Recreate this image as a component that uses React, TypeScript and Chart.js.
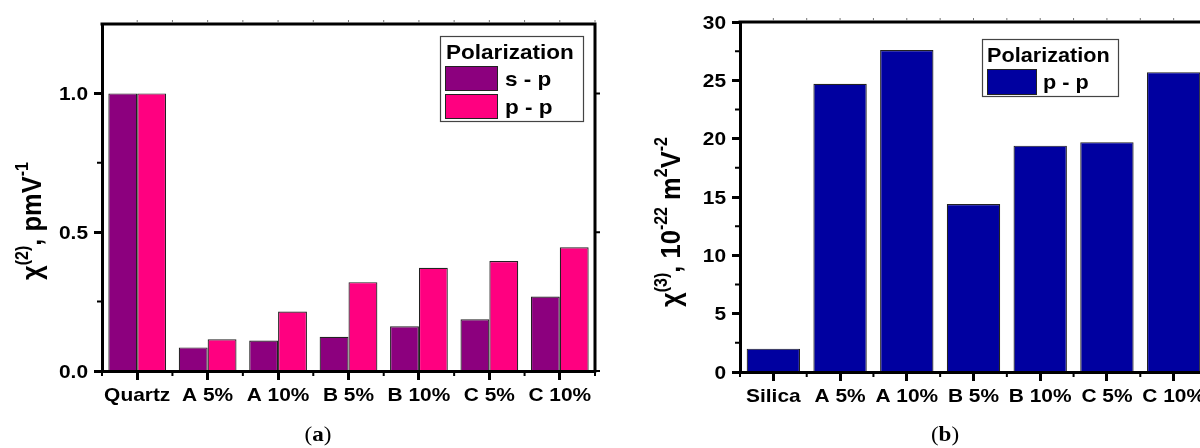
import React, { useEffect, useRef } from 'react';
import { Chart, registerables } from 'chart.js';

Chart.register(...registerables);

const SANS = '"Liberation Sans", Arial, Helvetica, sans-serif';
const SERIF = '"Liberation Serif", "DejaVu Serif", serif';
// Glyphs in this figure are drawn slightly wide.
const SX = 1.1;

// Panel (a): second-order susceptibility
const samplesA = ['Quartz', 'A 5%', 'A 10%', 'B 5%', 'B 10%', 'C 5%', 'C 10%'];
const chi2SP = [1.0, 0.085, 0.11, 0.123, 0.161, 0.186, 0.268];
const chi2PP = [1.0, 0.114, 0.214, 0.32, 0.372, 0.396, 0.446];
const chi2Ticks = [0, 0.5, 1.0];
const chi2Minor = [0.25, 0.75];

// Panel (b): third-order susceptibility
const samplesB = ['Silica', 'A 5%', 'A 10%', 'B 5%', 'B 10%', 'C 5%', 'C 10%'];
const chi3PP = [2.0, 24.7, 27.6, 14.4, 19.4, 19.7, 25.7];
const chi3Ticks = [0, 5, 10, 15, 20, 25, 30];
const chi3Minor = [2.5, 7.5, 12.5, 17.5, 22.5, 27.5];

const COLOR_SP = '#8C007E';
const COLOR_PP = '#FF0080';
const COLOR_NAVY = '#0000A0';

type Seg = { t: string; sup?: boolean };

interface LegendSpec {
  x: number;
  y: number;
  w: number;
  h: number;
  titleSize: number;
  titleX: number;
  titleBase: number;
  swX: number;
  swW: number;
  rows: { top: number; h: number; base: number }[];
  textX: number;
  textSize: number;
}

interface PanelSpec {
  yTitle: Seg[];
  yTitleX: number;
  yTitleY: number;
  yTitleSize: number;
  letter: string;
  captionX: number;
  decimals: number;
  yMinor: number[];
  labelSize: number;
  legend: LegendSpec;
}

function wideText(
  ctx: CanvasRenderingContext2D,
  text: string,
  x: number,
  y: number,
  font: string,
  align: CanvasTextAlign
) {
  ctx.save();
  ctx.translate(x, y);
  ctx.scale(SX, 1);
  ctx.font = font;
  ctx.textAlign = align;
  ctx.textBaseline = 'alphabetic';
  ctx.fillStyle = '#000';
  ctx.fillText(text, 0, 0);
  ctx.restore();
}

function rotatedTitle(ctx: CanvasRenderingContext2D, segs: Seg[], cx: number, cy: number, size: number) {
  const main = `bold ${size}px ${SANS}`;
  const sup = `bold ${Math.round(size * 0.62)}px ${SANS}`;
  ctx.save();
  ctx.translate(cx, cy);
  ctx.rotate(-Math.PI / 2);
  ctx.scale(1, SX);
  ctx.fillStyle = '#000';
  ctx.textBaseline = 'alphabetic';
  ctx.textAlign = 'left';
  let total = 0;
  for (const s of segs) {
    ctx.font = s.sup ? sup : main;
    total += ctx.measureText(s.t).width;
  }
  let x = -total / 2;
  const base = (size * 0.716) / 2;
  for (const s of segs) {
    ctx.font = s.sup ? sup : main;
    ctx.fillText(s.t, x, s.sup ? base - size * 0.47 : base);
    x += ctx.measureText(s.t).width;
  }
  ctx.restore();
}

function panelDecor(p: PanelSpec) {
  return {
    id: 'panelDecor',
    afterDraw(chart: any) {
      const ctx: CanvasRenderingContext2D = chart.ctx;
      const a = chart.chartArea;
      const xs = chart.scales.x;
      const ys = chart.scales.y;
      const n = chart.data.labels.length;
      ctx.save();

      // frame: top and right sides
      ctx.strokeStyle = '#000';
      ctx.lineWidth = 3;
      ctx.beginPath();
      ctx.moveTo(a.left - 1.5, a.top);
      ctx.lineTo(a.right, a.top);
      ctx.lineTo(a.right, a.bottom + 1.5);
      ctx.stroke();

      // minor y ticks on the left axis
      ctx.lineWidth = 2;
      ctx.beginPath();
      for (const v of p.yMinor) {
        const y = ys.getPixelForValue(v);
        ctx.moveTo(a.left, y);
        ctx.lineTo(a.left - 5, y);
      }
      // major y ticks mirrored on the right side
      for (const t of ys.ticks) {
        const y = ys.getPixelForValue(t.value);
        ctx.moveTo(a.right, y);
        ctx.lineTo(a.right + 6, y);
      }
      // minor x ticks between categories
      for (let i = 0; i <= n; i++) {
        const x =
          i === 0
            ? a.left
            : i === n
            ? a.right
            : (xs.getPixelForTick(i - 1) + xs.getPixelForTick(i)) / 2;
        ctx.moveTo(x, a.bottom);
        ctx.lineTo(x, a.bottom + 5);
      }
      ctx.stroke();

      // faint ticks above the top side
      ctx.strokeStyle = '#777';
      ctx.lineWidth = 1;
      ctx.beginPath();
      for (let i = 0; i < n; i++) {
        const c = xs.getPixelForTick(i);
        const half = (a.right - a.left) / n / 2;
        ctx.moveTo(c, a.top - 1);
        ctx.lineTo(c, a.top - 4);
        ctx.moveTo(c + half, a.top - 1);
        ctx.lineTo(c + half, a.top - 4);
      }
      ctx.stroke();

      // tick labels
      const lf = `bold ${p.labelSize}px ${SANS}`;
      const cap = p.labelSize * 0.716;
      for (const t of ys.ticks) {
        const y = ys.getPixelForValue(t.value);
        wideText(ctx, Number(t.value).toFixed(p.decimals), a.left - 14, y + cap / 2, lf, 'right');
      }
      for (let i = 0; i < n; i++) {
        wideText(ctx, String(chart.data.labels[i]), xs.getPixelForTick(i), a.bottom + 16 + cap, lf, 'center');
      }

      // axis title
      rotatedTitle(ctx, p.yTitle, p.yTitleX, p.yTitleY, p.yTitleSize);

      // legend
      const L = p.legend;
      ctx.fillStyle = '#fff';
      ctx.fillRect(L.x, L.y, L.w, L.h);
      ctx.strokeStyle = '#444';
      ctx.lineWidth = 1.2;
      ctx.strokeRect(L.x + 0.5, L.y + 0.5, L.w, L.h);
      wideText(ctx, 'Polarization', L.titleX, L.titleBase, `bold ${L.titleSize}px ${SANS}`, 'left');
      chart.data.datasets.forEach((ds: any, i: number) => {
        const r = L.rows[i];
        ctx.fillStyle = ds.backgroundColor;
        ctx.fillRect(L.swX, r.top, L.swW, r.h);
        ctx.strokeStyle = '#222';
        ctx.lineWidth = 1;
        ctx.strokeRect(L.swX + 0.5, r.top + 0.5, L.swW - 1, r.h - 1);
        wideText(ctx, ds.label, L.textX, r.base, `bold ${L.textSize}px ${SANS}`, 'left');
      });

      // panel caption "(a)" / "(b)"
      const cf = `21px ${SERIF}`;
      const bf = `bold 21px ${SERIF}`;
      ctx.font = cf;
      const wp = ctx.measureText('(').width * SX;
      const wp2 = ctx.measureText(')').width * SX;
      ctx.font = bf;
      const wl = ctx.measureText(p.letter).width * SX;
      const x0 = p.captionX - (wp + wl + wp2) / 2;
      const cb = 441;
      wideText(ctx, '(', x0, cb, cf, 'left');
      wideText(ctx, p.letter, x0 + wp, cb, bf, 'left');
      wideText(ctx, ')', x0 + wp + wl, cb, cf, 'left');

      ctx.restore();
    },
  };
}

function axisOptions(yMin: number, yMax: number, ticks: number[], yWidth: number, xHeight: number) {
  const border = { display: true, width: 3, color: '#000', z: 1 };
  return {
    x: {
      type: 'category',
      offset: true,
      grid: {
        display: true,
        drawOnChartArea: false,
        offset: false,
        drawTicks: true,
        tickLength: 9,
        tickWidth: 3,
        tickColor: '#000',
      },
      border,
      ticks: { display: false },
      afterFit: (s: any) => {
        s.height = xHeight;
      },
    },
    y: {
      type: 'linear',
      min: yMin,
      max: yMax,
      grid: {
        display: true,
        drawOnChartArea: false,
        drawTicks: true,
        tickLength: 8,
        tickWidth: 3,
        tickColor: '#000',
      },
      border,
      ticks: { display: false },
      afterBuildTicks: (s: any) => {
        s.ticks = ticks.map((v) => ({ value: v }));
      },
      afterFit: (s: any) => {
        s.width = yWidth;
      },
    },
  };
}

function PanelA() {
  const ref = useRef<HTMLCanvasElement | null>(null);
  useEffect(() => {
    if (!ref.current) return;
    const chart = new Chart(ref.current, {
      type: 'bar',
      data: {
        labels: samplesA,
        datasets: [
          {
            label: 's - p',
            data: chi2SP,
            backgroundColor: COLOR_SP,
            borderColor: '#222',
            borderWidth: 1.2,
            categoryPercentage: 0.82,
            barPercentage: 1.0,
          },
          {
            label: 'p - p',
            data: chi2PP,
            backgroundColor: COLOR_PP,
            borderColor: '#222',
            borderWidth: 1.2,
            categoryPercentage: 0.82,
            barPercentage: 1.0,
          },
        ],
      },
      options: {
        responsive: false,
        animation: false,
        layout: { padding: { left: 0, top: 24, right: 5, bottom: 0 } },
        plugins: { legend: { display: false }, tooltip: { enabled: false } },
        scales: axisOptions(0, 1.25, chi2Ticks, 102, 77) as any,
      },
      plugins: [
        panelDecor({
          yTitle: [{ t: 'χ' }, { t: '(2)', sup: true }, { t: ', pmV' }, { t: '-1', sup: true }],
          yTitleX: 31,
          yTitleY: 221,
          yTitleSize: 25.5,
          letter: 'a',
          captionX: 318,
          decimals: 1,
          yMinor: chi2Minor,
          labelSize: 19,
          legend: {
            x: 440,
            y: 36,
            w: 143,
            h: 85,
            titleSize: 20.5,
            titleX: 446,
            titleBase: 59,
            swX: 445,
            swW: 53,
            rows: [
              { top: 66, h: 25, base: 86 },
              { top: 94, h: 25, base: 114 },
            ],
            textX: 505,
            textSize: 20.5,
          },
        }),
      ],
    });
    return () => chart.destroy();
  }, []);
  return (
    <canvas
      ref={ref}
      width={600}
      height={448}
      style={{ position: 'absolute', left: 0, top: 0, width: 600, height: 448 }}
    />
  );
}

function PanelB() {
  const ref = useRef<HTMLCanvasElement | null>(null);
  useEffect(() => {
    if (!ref.current) return;
    const chart = new Chart(ref.current, {
      type: 'bar',
      data: {
        labels: samplesB,
        datasets: [
          {
            label: 'p - p',
            data: chi3PP,
            backgroundColor: COLOR_NAVY,
            borderColor: '#222',
            borderWidth: 1.2,
            categoryPercentage: 0.8,
            barPercentage: 1.0,
          },
        ],
      },
      options: {
        responsive: false,
        animation: false,
        layout: { padding: { left: 0, top: 22, right: 13, bottom: 0 } },
        plugins: { legend: { display: false }, tooltip: { enabled: false } },
        scales: axisOptions(0, 30, chi3Ticks, 140, 76) as any,
      },
      plugins: [
        panelDecor({
          yTitle: [
            { t: 'χ' },
            { t: '(3)', sup: true },
            { t: ', 10' },
            { t: '-22', sup: true },
            { t: ' m' },
            { t: '2', sup: true },
            { t: 'V' },
            { t: '-2', sup: true },
          ],
          yTitleX: 70,
          yTitleY: 222,
          yTitleSize: 25.5,
          letter: 'b',
          captionX: 345,
          decimals: 0,
          yMinor: chi3Minor,
          labelSize: 19,
          legend: {
            x: 382,
            y: 39,
            w: 136,
            h: 57,
            titleSize: 19.7,
            titleX: 387,
            titleBase: 62,
            swX: 387,
            swW: 50,
            rows: [{ top: 69, h: 26, base: 89 }],
            textX: 443,
            textSize: 19.7,
          },
        }),
      ],
    });
    return () => chart.destroy();
  }, []);
  return (
    <canvas
      ref={ref}
      width={620}
      height={448}
      style={{ position: 'absolute', left: 600, top: 0, width: 620, height: 448 }}
    />
  );
}

export default function App() {
  return (
    <div
      style={{
        position: 'fixed',
        left: 0,
        top: 0,
        width: 1200,
        height: 448,
        overflow: 'hidden',
        background: '#fff',
      }}
    >
      <PanelA />
      <PanelB />
    </div>
  );
}
